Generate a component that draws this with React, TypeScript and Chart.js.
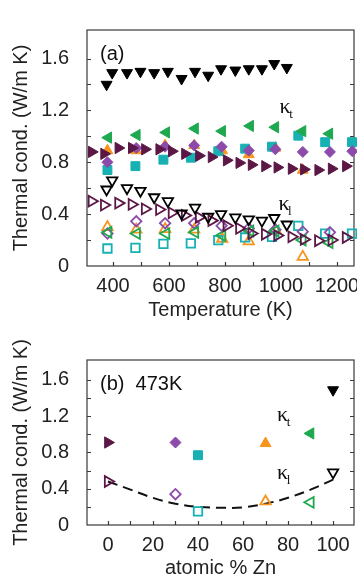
import React, { useEffect, useRef } from "react";
import { Chart, registerables } from "chart.js";
Chart.register(...registerables);

// ---------- Panel (a): thermal conductivity vs temperature ----------
const T_BLACK = [377, 397, 450, 498, 547, 596, 645, 693, 740, 786, 837, 885, 932, 976, 1021];
const KT_BLACK = [1.40, 1.49, 1.49, 1.50, 1.49, 1.50, 1.445, 1.50, 1.47, 1.52, 1.51, 1.52, 1.52, 1.56, 1.53];
const KL_BLACK = [0.59, 0.66, 0.60, 0.58, 0.53, 0.50, 0.405, 0.45, 0.38, 0.40, 0.375, 0.36, 0.35, 0.37, 0.32];

const T_GREEN = [383, 485, 590, 693, 790, 890, 980, 1077, 1173];
const KT_GREEN = [0.99, 1.01, 1.03, 1.06, 1.04, 1.08, 1.07, 1.04, 1.02];
const KL_GREEN = [0.26, 0.25, 0.25, 0.26, 0.235, 0.27, 0.27, 0.20, 0.18];

const T_MAROON = [324, 368, 419, 467, 514, 565, 610, 657, 707, 752, 806, 851, 895, 943, 987, 1038, 1082, 1133, 1181, 1232];
const KT_MAROON = [0.88, 0.865, 0.91, 0.91, 0.90, 0.90, 0.885, 0.865, 0.85, 0.84, 0.815, 0.795, 0.78, 0.77, 0.76, 0.75, 0.745, 0.74, 0.75, 0.77];
const KL_MAROON = [0.50, 0.47, 0.485, 0.475, 0.44, 0.435, 0.41, 0.39, 0.375, 0.35, 0.31, 0.29, 0.25, 0.245, 0.235, 0.225, 0.205, 0.195, 0.20, 0.22];

const T_ORANGE = [380, 483, 586, 690, 790, 885, 980, 1078];
const KT_ORANGE = [0.89, 0.89, 0.93, 0.93, 0.89, 0.86, 0.91, 0.74];
const KL_ORANGE = [0.30, 0.28, 0.285, 0.28, 0.21, 0.19, 0.28, 0.07];

const T_PURPLE = [380, 483, 586, 690, 788, 885, 980, 1078, 1175, 1255];
const KT_PURPLE = [0.80, 0.91, 0.92, 0.93, 0.92, 0.89, 0.90, 0.88, 0.88, 0.885];
const T_PURPLE_L = [380, 483, 586, 690, 788, 885, 980, 1078, 1175];
const KL_PURPLE = [0.25, 0.345, 0.33, 0.33, 0.31, 0.29, 0.28, 0.265, 0.26];

const T_CYAN = [380, 480, 580, 678, 776, 872, 968, 1062, 1158, 1254];
const KT_CYAN = [0.74, 0.77, 0.82, 0.835, 0.885, 0.905, 0.92, 1.005, 0.955, 0.955];
const KL_CYAN = [0.135, 0.14, 0.17, 0.175, 0.20, 0.22, 0.225, 0.31, 0.25, 0.25];

// ---------- Panel (b): 473 K vs atomic % Zn ----------
const ZN_MAROON = [0];
const ZN_PURPLE = [30];
const ZN_CYAN = [40];
const ZN_ORANGE = [70];
const ZN_GREEN = [90];
const ZN_BLACK = [100];
const B_KT_MAROON = [0.91];
const B_KL_MAROON = [0.48];
const B_KT_PURPLE = [0.91];
const B_KL_PURPLE = [0.34];
const B_KT_CYAN = [0.77];
const B_KL_CYAN = [0.15];
const B_KT_ORANGE = [0.90];
const B_KL_ORANGE = [0.26];
const B_KT_GREEN = [1.01];
const B_KL_GREEN = [0.25];
const B_KT_BLACK = [1.49];
const B_KL_BLACK = [0.58];
const FIT_ZN = [0, 10, 20, 30, 40, 50, 60, 70, 80, 90, 100];
const FIT_K = [0.48, 0.39, 0.30, 0.235, 0.20, 0.19, 0.195, 0.235, 0.30, 0.39, 0.50];

// ---------- Axes ----------
const Y_TICKS = [0, 0.4, 0.8, 1.2, 1.6];
const X_TICKS_A = [400, 600, 800, 1000, 1200];
const X_TICKS_B = [0, 20, 40, 60, 80, 100];

const MAROON = "#5b1745";
const GREEN = "#1ea84f";
const ORANGE = "#f7941d";
const PURPLE = "#8c4bab";
const CYAN = "#17b0b3";
const BLACK = "#000000";

const SANS = "'Liberation Sans', Arial, sans-serif";
const TEXT = "#222222";

type Style = { color: string; shape: string; rot: number; r: number };
const S_BLACK: Style = { color: BLACK, shape: "triangle", rot: 180, r: 6.3 };
const S_GREEN: Style = { color: GREEN, shape: "triangle", rot: 270, r: 6.5 };
const S_MAROON: Style = { color: MAROON, shape: "triangle", rot: 90, r: 6.5 };
const S_ORANGE: Style = { color: ORANGE, shape: "triangle", rot: 0, r: 6.3 };
const S_PURPLE: Style = { color: PURPLE, shape: "rectRot", rot: 0, r: 5.5 };
const S_CYAN: Style = { color: CYAN, shape: "rect", rot: 0, r: 6.3 };

function ds(xs: number[], ys: number[], s: Style, open: boolean) {
  return {
    data: xs.map((x, i) => ({ x, y: ys[i] })),
    showLine: false,
    pointStyle: s.shape,
    rotation: s.rot,
    pointRadius: open ? s.r - 0.3 : s.r,
    pointBackgroundColor: open ? "rgba(0,0,0,0)" : s.color,
    pointBorderColor: s.color,
    pointBorderWidth: open ? 1.8 : 1,
    clip: false as any,
  };
}

const framePlugin = {
  id: "frame",
  beforeDatasetsDraw(chart: any, _args: any, opts: any) {
    const { ctx, chartArea: a, scales } = chart;
    const xs = scales.x, ys = scales.y;
    ctx.save();
    ctx.strokeStyle = "#3a3a3a";
    ctx.lineWidth = 1.2;
    ctx.strokeRect(a.left, a.top, a.right - a.left, a.bottom - a.top);
    const tl = 4;
    ctx.beginPath();
    const xt: number[] = opts.xTicks;
    const xstep = (xt[1] - xt[0]) / 2;
    for (let v = xt[0]; v <= xt[xt.length - 1] + 1e-9; v += xstep) {
      const px = Math.round(xs.getPixelForValue(v)) + 0.5;
      ctx.moveTo(px, a.bottom);
      ctx.lineTo(px, a.bottom - tl);
    }
    for (let k = 1; k <= 8; k++) {
      const v = k * 0.2;
      const py = Math.round(ys.getPixelForValue(v)) + 0.5;
      ctx.moveTo(a.left, py);
      ctx.lineTo(a.left + tl, py);
      ctx.moveTo(a.right, py);
      ctx.lineTo(a.right - tl, py);
    }
    ctx.stroke();
    ctx.restore();
  },
  afterDraw(chart: any, _args: any, opts: any) {
    const { ctx, chartArea: a, scales } = chart;
    ctx.save();
    ctx.fillStyle = "#111";
    ctx.textBaseline = "middle";
    ctx.textAlign = "left";
    ctx.font = `20px ${SANS}`;
    ctx.fillText(opts.tag, a.left + 13, a.top + 24);
    for (const k of opts.kappas) {
      const px = scales.x.getPixelForValue(k.x);
      const py = scales.y.getPixelForValue(k.y);
      ctx.font = `22px 'Liberation Serif', serif`;
      ctx.textAlign = "center";
      ctx.fillText("κ", px, py - 2);
      ctx.font = `13px 'Liberation Serif', serif`;
      ctx.textAlign = "left";
      ctx.fillText(k.sub, px + 4, py + 5);
    }
    ctx.restore();
  },
};

function makeOptions(cfg: {
  xmin: number; xmax: number; xTicks: number[]; xTitle: string; xHeight: number;
  padTop: number; titleBottom: number; tag: string; kappas: any[];
}) {
  const font = { family: SANS, size: 20 };
  return {
    responsive: false,
    animation: false,
    devicePixelRatio: 1,
    layout: { padding: { top: cfg.padTop, right: 46, bottom: 0, left: 0 } },
    plugins: {
      legend: { display: false },
      tooltip: { enabled: false },
      frame: { xTicks: cfg.xTicks, tag: cfg.tag, kappas: cfg.kappas },
    },
    scales: {
      x: {
        type: "linear",
        min: cfg.xmin,
        max: cfg.xmax,
        afterBuildTicks: (s: any) => { s.ticks = cfg.xTicks.map((v) => ({ value: v })); },
        afterFit: (s: any) => { s.height = cfg.xHeight; },
        grid: { display: false, drawTicks: false },
        border: { display: false },
        ticks: {
          font, color: TEXT, padding: 8, maxRotation: 0, autoSkip: false,
          callback: (v: any) => String(v),
        },
        title: { display: true, text: cfg.xTitle, font, color: TEXT, padding: { top: 0, bottom: cfg.titleBottom } },
      },
      y: {
        type: "linear",
        min: 0,
        max: 1.82,
        afterBuildTicks: (s: any) => { s.ticks = Y_TICKS.map((v) => ({ value: v })); },
        afterFit: (s: any) => { s.width = 87; },
        grid: { display: false, drawTicks: false },
        border: { display: false },
        ticks: {
          font, color: TEXT, padding: 18,
          callback: (v: any) => (Number(v) === 0 ? "0" : Number(v).toFixed(1)),
        },
        title: { display: true, text: "Thermal cond. (W/m K)", font, color: TEXT, padding: { top: 9, bottom: 0 } },
      },
    },
  } as any;
}

export default function App() {
  const refA = useRef<HTMLCanvasElement>(null);
  const refB = useRef<HTMLCanvasElement>(null);

  useEffect(() => {
    const chartA = new Chart(refA.current as HTMLCanvasElement, {
      type: "scatter",
      data: {
        datasets: [
          ds(T_BLACK, KT_BLACK, S_BLACK, false),
          ds(T_BLACK, KL_BLACK, S_BLACK, true),
          ds(T_MAROON, KT_MAROON, S_MAROON, false),
          ds(T_MAROON, KL_MAROON, S_MAROON, true),
          ds(T_GREEN, KT_GREEN, S_GREEN, false),
          ds(T_GREEN, KL_GREEN, S_GREEN, true),
          ds(T_PURPLE, KT_PURPLE, S_PURPLE, false),
          ds(T_PURPLE_L, KL_PURPLE, S_PURPLE, true),
          ds(T_CYAN, KT_CYAN, S_CYAN, false),
          ds(T_CYAN, KL_CYAN, S_CYAN, true),
          ds(T_ORANGE, KT_ORANGE, S_ORANGE, false),
          ds(T_ORANGE, KL_ORANGE, S_ORANGE, true),
        ],
      },
      options: makeOptions({
        xmin: 307, xmax: 1261, xTicks: X_TICKS_A, xTitle: "Temperature (K)", xHeight: 64,
        padTop: 7, titleBottom: 8, tag: "(a)",
        kappas: [
          { x: 1015, y: 1.21, sub: "t" },
          { x: 1011, y: 0.46, sub: "l" },
        ],
      }),
      plugins: [framePlugin],
    });

    const chartB = new Chart(refB.current as HTMLCanvasElement, {
      type: "scatter",
      data: {
        datasets: [
          ds(ZN_MAROON, B_KT_MAROON, S_MAROON, false),
          ds(ZN_MAROON, B_KL_MAROON, S_MAROON, true),
          ds(ZN_PURPLE, B_KT_PURPLE, S_PURPLE, false),
          ds(ZN_PURPLE, B_KL_PURPLE, S_PURPLE, true),
          ds(ZN_CYAN, B_KT_CYAN, S_CYAN, false),
          ds(ZN_CYAN, B_KL_CYAN, S_CYAN, true),
          ds(ZN_ORANGE, B_KT_ORANGE, S_ORANGE, false),
          ds(ZN_ORANGE, B_KL_ORANGE, S_ORANGE, true),
          ds(ZN_GREEN, B_KT_GREEN, S_GREEN, false),
          ds(ZN_GREEN, B_KL_GREEN, S_GREEN, true),
          ds(ZN_BLACK, B_KT_BLACK, S_BLACK, false),
          ds(ZN_BLACK, B_KL_BLACK, S_BLACK, true),
          {
            data: FIT_ZN.map((x, i) => ({ x, y: FIT_K[i] })),
            showLine: true,
            borderColor: "#111",
            borderWidth: 2,
            borderDash: [10, 6],
            tension: 0.4,
            pointRadius: 0,
          } as any,
        ],
      },
      options: makeOptions({
        xmin: -9.3, xmax: 109.3, xTicks: X_TICKS_B, xTitle: "atomic % Zn", xHeight: 55,
        padTop: 18, titleBottom: 0, tag: "(b)  473K",
        kappas: [
          { x: 77.6, y: 1.19, sub: "t" },
          { x: 77.6, y: 0.55, sub: "l" },
        ],
      }),
      plugins: [framePlugin],
    });

    return () => {
      chartA.destroy();
      chartB.destroy();
    };
  }, []);

  return (
    <div style={{ position: "absolute", left: 0, top: 0, width: 357, height: 580, overflow: "hidden", background: "#fff" }}>
      <canvas ref={refA} width={400} height={330} style={{ position: "absolute", left: 0, top: 0, display: "block" }} />
      <canvas ref={refB} width={400} height={250} style={{ position: "absolute", left: 0, top: 330, display: "block" }} />
    </div>
  );
}
